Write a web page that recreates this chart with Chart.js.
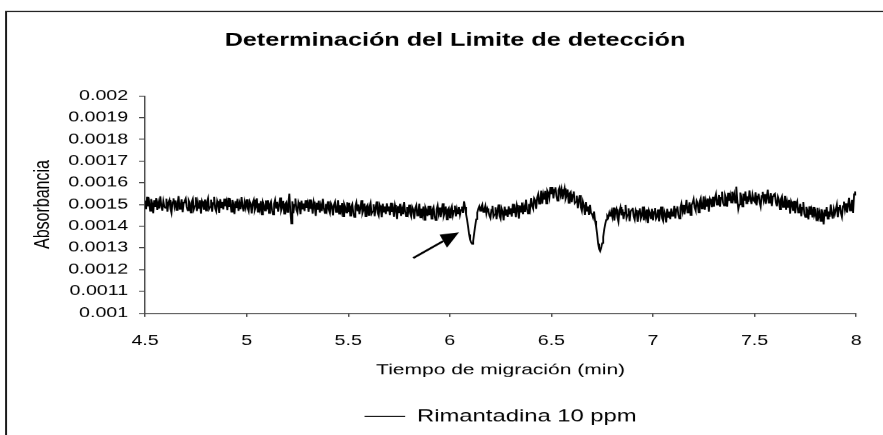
<!DOCTYPE html>
<html>
<head>
<meta charset="utf-8">
<script src="https://cdn.jsdelivr.net/npm/chart.js@4.4.0/dist/chart.umd.min.js"></script>
<style>
  html, body { margin: 0; padding: 0; background: #fff; overflow: hidden; }
  /* the original picture is stretched sideways, so the chart is drawn narrow and widened */
  #wrap { width: 631px; height: 435px; transform: scaleX(1.3994); transform-origin: 0 0; }
</style>
</head>
<body>
<div id="wrap"><canvas id="grafico" width="631" height="435"></canvas></div>
<script>
// migration time (min), one reading every 0.005 min
const tiempo = [
  4.5,4.505,4.51,4.515,4.52,4.525,4.53,4.535,4.54,4.545,4.55,4.555,4.56,4.565,4.57,4.575,4.58,4.585,4.59,4.595,
  4.6,4.605,4.61,4.615,4.62,4.625,4.63,4.635,4.64,4.645,4.65,4.655,4.66,4.665,4.67,4.675,4.68,4.685,4.69,4.695,
  4.7,4.705,4.71,4.715,4.72,4.725,4.73,4.735,4.74,4.745,4.75,4.755,4.76,4.765,4.77,4.775,4.78,4.785,4.79,4.795,
  4.8,4.805,4.81,4.815,4.82,4.825,4.83,4.835,4.84,4.845,4.85,4.855,4.86,4.865,4.87,4.875,4.88,4.885,4.89,4.895,
  4.9,4.905,4.91,4.915,4.92,4.925,4.93,4.935,4.94,4.945,4.95,4.955,4.96,4.965,4.97,4.975,4.98,4.985,4.99,4.995,
  5.0,5.005,5.01,5.015,5.02,5.025,5.03,5.035,5.04,5.045,5.05,5.055,5.06,5.065,5.07,5.075,5.08,5.085,5.09,5.095,
  5.1,5.105,5.11,5.115,5.12,5.125,5.13,5.135,5.14,5.145,5.15,5.155,5.16,5.165,5.17,5.175,5.18,5.185,5.19,5.195,
  5.2,5.205,5.21,5.215,5.22,5.225,5.23,5.235,5.24,5.245,5.25,5.255,5.26,5.265,5.27,5.275,5.28,5.285,5.29,5.295,
  5.3,5.305,5.31,5.315,5.32,5.325,5.33,5.335,5.34,5.345,5.35,5.355,5.36,5.365,5.37,5.375,5.38,5.385,5.39,5.395,
  5.4,5.405,5.41,5.415,5.42,5.425,5.43,5.435,5.44,5.445,5.45,5.455,5.46,5.465,5.47,5.475,5.48,5.485,5.49,5.495,
  5.5,5.505,5.51,5.515,5.52,5.525,5.53,5.535,5.54,5.545,5.55,5.555,5.56,5.565,5.57,5.575,5.58,5.585,5.59,5.595,
  5.6,5.605,5.61,5.615,5.62,5.625,5.63,5.635,5.64,5.645,5.65,5.655,5.66,5.665,5.67,5.675,5.68,5.685,5.69,5.695,
  5.7,5.705,5.71,5.715,5.72,5.725,5.73,5.735,5.74,5.745,5.75,5.755,5.76,5.765,5.77,5.775,5.78,5.785,5.79,5.795,
  5.8,5.805,5.81,5.815,5.82,5.825,5.83,5.835,5.84,5.845,5.85,5.855,5.86,5.865,5.87,5.875,5.88,5.885,5.89,5.895,
  5.9,5.905,5.91,5.915,5.92,5.925,5.93,5.935,5.94,5.945,5.95,5.955,5.96,5.965,5.97,5.975,5.98,5.985,5.99,5.995,
  6.0,6.005,6.01,6.015,6.02,6.025,6.03,6.035,6.04,6.045,6.05,6.055,6.06,6.065,6.07,6.075,6.08,6.085,6.09,6.095,
  6.1,6.105,6.11,6.115,6.12,6.125,6.13,6.135,6.14,6.145,6.15,6.155,6.16,6.165,6.17,6.175,6.18,6.185,6.19,6.195,
  6.2,6.205,6.21,6.215,6.22,6.225,6.23,6.235,6.24,6.245,6.25,6.255,6.26,6.265,6.27,6.275,6.28,6.285,6.29,6.295,
  6.3,6.305,6.31,6.315,6.32,6.325,6.33,6.335,6.34,6.345,6.35,6.355,6.36,6.365,6.37,6.375,6.38,6.385,6.39,6.395,
  6.4,6.405,6.41,6.415,6.42,6.425,6.43,6.435,6.44,6.445,6.45,6.455,6.46,6.465,6.47,6.475,6.48,6.485,6.49,6.495,
  6.5,6.505,6.51,6.515,6.52,6.525,6.53,6.535,6.54,6.545,6.55,6.555,6.56,6.565,6.57,6.575,6.58,6.585,6.59,6.595,
  6.6,6.605,6.61,6.615,6.62,6.625,6.63,6.635,6.64,6.645,6.65,6.655,6.66,6.665,6.67,6.675,6.68,6.685,6.69,6.695,
  6.7,6.705,6.71,6.715,6.72,6.725,6.73,6.735,6.74,6.745,6.75,6.755,6.76,6.765,6.77,6.775,6.78,6.785,6.79,6.795,
  6.8,6.805,6.81,6.815,6.82,6.825,6.83,6.835,6.84,6.845,6.85,6.855,6.86,6.865,6.87,6.875,6.88,6.885,6.89,6.895,
  6.9,6.905,6.91,6.915,6.92,6.925,6.93,6.935,6.94,6.945,6.95,6.955,6.96,6.965,6.97,6.975,6.98,6.985,6.99,6.995,
  7.0,7.005,7.01,7.015,7.02,7.025,7.03,7.035,7.04,7.045,7.05,7.055,7.06,7.065,7.07,7.075,7.08,7.085,7.09,7.095,
  7.1,7.105,7.11,7.115,7.12,7.125,7.13,7.135,7.14,7.145,7.15,7.155,7.16,7.165,7.17,7.175,7.18,7.185,7.19,7.195,
  7.2,7.205,7.21,7.215,7.22,7.225,7.23,7.235,7.24,7.245,7.25,7.255,7.26,7.265,7.27,7.275,7.28,7.285,7.29,7.295,
  7.3,7.305,7.31,7.315,7.32,7.325,7.33,7.335,7.34,7.345,7.35,7.355,7.36,7.365,7.37,7.375,7.38,7.385,7.39,7.395,
  7.4,7.405,7.41,7.415,7.42,7.425,7.43,7.435,7.44,7.445,7.45,7.455,7.46,7.465,7.47,7.475,7.48,7.485,7.49,7.495,
  7.5,7.505,7.51,7.515,7.52,7.525,7.53,7.535,7.54,7.545,7.55,7.555,7.56,7.565,7.57,7.575,7.58,7.585,7.59,7.595,
  7.6,7.605,7.61,7.615,7.62,7.625,7.63,7.635,7.64,7.645,7.65,7.655,7.66,7.665,7.67,7.675,7.68,7.685,7.69,7.695,
  7.7,7.705,7.71,7.715,7.72,7.725,7.73,7.735,7.74,7.745,7.75,7.755,7.76,7.765,7.77,7.775,7.78,7.785,7.79,7.795,
  7.8,7.805,7.81,7.815,7.82,7.825,7.83,7.835,7.84,7.845,7.85,7.855,7.86,7.865,7.87,7.875,7.88,7.885,7.89,7.895,
  7.9,7.905,7.91,7.915,7.92,7.925,7.93,7.935,7.94,7.945,7.95,7.955,7.96,7.965,7.97,7.975,7.98,7.985,7.99,7.995,
  8.0
];

const absorbancia = [
  0.001518,0.001478,0.001535,0.001492,0.001512,0.001470,0.001525,0.001505,0.001460,0.001520,0.001488,0.001530,0.001475,0.001508,0.001482,0.001538,0.001495,0.001472,0.001515,0.001490,
  0.001484,0.001527,0.001467,0.001509,0.001521,0.001481,0.001461,0.001511,0.001529,0.001491,0.001519,0.001474,0.001504,0.001539,0.001479,0.001494,0.001524,0.001464,0.001509,0.001517,
  0.001528,0.001488,0.001473,0.001518,0.001506,0.001463,0.001513,0.001526,0.001478,0.001493,0.001533,0.001470,0.001510,0.001483,0.001520,0.001458,0.001516,0.001503,0.001476,0.001523,
  0.001472,0.001512,0.001529,0.001479,0.001489,0.001522,0.001467,0.001507,0.001535,0.001482,0.001469,0.001517,0.001502,0.001462,0.001525,0.001487,0.001512,0.001477,0.001527,0.001492,
  0.001514,0.001474,0.001531,0.001488,0.001508,0.001466,0.001521,0.001501,0.001456,0.001516,0.001484,0.001526,0.001471,0.001504,0.001478,0.001534,0.001491,0.001468,0.001511,0.001486,
  0.001524,0.001484,0.001469,0.001514,0.001502,0.001459,0.001509,0.001522,0.001474,0.001489,0.001529,0.001466,0.001506,0.001479,0.001516,0.001454,0.001512,0.001499,0.001472,0.001519,
  0.001477,0.001520,0.001460,0.001502,0.001514,0.001474,0.001454,0.001504,0.001522,0.001484,0.001512,0.001467,0.001497,0.001532,0.001472,0.001487,0.001517,0.001457,0.001502,0.001510,
  0.001465,0.001505,0.001550,0.001472,0.001412,0.001515,0.001460,0.001500,0.001528,0.001475,0.001462,0.001510,0.001495,0.001455,0.001518,0.001480,0.001505,0.001470,0.001520,0.001485,
  0.001506,0.001466,0.001523,0.001480,0.001500,0.001458,0.001513,0.001493,0.001448,0.001508,0.001476,0.001518,0.001463,0.001496,0.001470,0.001526,0.001483,0.001460,0.001503,0.001478,
  0.001515,0.001475,0.001460,0.001505,0.001493,0.001450,0.001500,0.001513,0.001465,0.001480,0.001520,0.001457,0.001497,0.001470,0.001507,0.001445,0.001503,0.001490,0.001463,0.001510,
  0.001465,0.001508,0.001448,0.001490,0.001502,0.001462,0.001442,0.001492,0.001510,0.001472,0.001500,0.001455,0.001485,0.001520,0.001460,0.001475,0.001505,0.001445,0.001490,0.001498,
  0.001451,0.001491,0.001508,0.001458,0.001468,0.001501,0.001446,0.001486,0.001514,0.001461,0.001448,0.001496,0.001481,0.001441,0.001504,0.001466,0.001491,0.001456,0.001506,0.001471,
  0.001491,0.001451,0.001508,0.001465,0.001485,0.001443,0.001498,0.001478,0.001433,0.001493,0.001461,0.001503,0.001448,0.001481,0.001455,0.001511,0.001468,0.001445,0.001488,0.001463,
  0.001499,0.001459,0.001444,0.001489,0.001477,0.001434,0.001484,0.001497,0.001449,0.001464,0.001504,0.001441,0.001481,0.001454,0.001491,0.001429,0.001487,0.001474,0.001447,0.001494,
  0.001451,0.001494,0.001434,0.001476,0.001488,0.001448,0.001428,0.001478,0.001496,0.001458,0.001486,0.001441,0.001471,0.001506,0.001446,0.001461,0.001491,0.001431,0.001476,0.001484,
  0.001440,0.001478,0.001492,0.001450,0.001472,0.001495,0.001445,0.001480,0.001458,0.001488,0.001452,0.001475,0.001490,0.001462,0.001515,0.001488,0.001455,0.001430,0.001398,0.001362,
  0.001338,0.001325,0.001318,0.001332,0.001368,0.001402,0.001432,0.001462,0.001480,0.001492,0.001470,0.001488,0.001500,0.001465,0.001478,0.001495,0.001458,0.001482,0.001470,0.001448,
  0.001437,0.001477,0.001494,0.001444,0.001454,0.001487,0.001432,0.001472,0.001500,0.001447,0.001434,0.001482,0.001467,0.001427,0.001490,0.001452,0.001477,0.001442,0.001492,0.001457,
  0.001483,0.001444,0.001503,0.001461,0.001482,0.001441,0.001498,0.001479,0.001435,0.001496,0.001466,0.001509,0.001455,0.001489,0.001465,0.001522,0.001480,0.001458,0.001503,0.001479,
  0.001530,0.001493,0.001481,0.001529,0.001520,0.001480,0.001532,0.001548,0.001503,0.001521,0.001564,0.001504,0.001547,0.001523,0.001563,0.001504,0.001564,0.001554,0.001530,0.001580,
  0.001547,0.001580,0.001528,0.001569,0.001579,0.001538,0.001517,0.001566,0.001578,0.001544,0.001570,0.001524,0.001553,0.001575,0.001526,0.001540,0.001569,0.001507,0.001551,0.001558,
  0.001510,0.001546,0.001560,0.001506,0.001512,0.001541,0.001483,0.001519,0.001543,0.001487,0.001470,0.001514,0.001496,0.001452,0.001511,0.001470,0.001491,0.001452,0.001498,0.001460,
  0.001455,0.001440,0.001468,0.001425,0.001400,0.001365,0.001320,0.001295,0.001285,0.001300,0.001322,0.001350,0.001385,0.001410,0.001430,0.001448,0.001440,0.001462,0.001445,0.001468,
  0.001443,0.001486,0.001426,0.001468,0.001480,0.001440,0.001420,0.001470,0.001488,0.001450,0.001478,0.001433,0.001463,0.001498,0.001438,0.001453,0.001483,0.001423,0.001468,0.001476,
  0.001485,0.001445,0.001430,0.001475,0.001463,0.001420,0.001470,0.001483,0.001435,0.001450,0.001490,0.001427,0.001467,0.001440,0.001477,0.001415,0.001473,0.001460,0.001433,0.001480,
  0.001427,0.001467,0.001484,0.001434,0.001444,0.001477,0.001422,0.001462,0.001490,0.001437,0.001424,0.001472,0.001457,0.001417,0.001480,0.001442,0.001467,0.001432,0.001482,0.001447,
  0.001450,0.001494,0.001436,0.001479,0.001492,0.001453,0.001435,0.001486,0.001505,0.001468,0.001498,0.001454,0.001485,0.001521,0.001463,0.001479,0.001510,0.001451,0.001498,0.001507,
  0.001525,0.001486,0.001472,0.001517,0.001506,0.001464,0.001515,0.001529,0.001481,0.001497,0.001538,0.001476,0.001517,0.001490,0.001528,0.001467,0.001526,0.001514,0.001487,0.001535,
  0.001490,0.001531,0.001549,0.001499,0.001510,0.001544,0.001490,0.001531,0.001559,0.001507,0.001495,0.001544,0.001530,0.001490,0.001554,0.001517,0.001543,0.001509,0.001559,0.001525,
  0.001548,0.001508,0.001582,0.001522,0.001478,0.001500,0.001555,0.001535,0.001490,0.001550,0.001518,0.001560,0.001505,0.001538,0.001512,0.001565,0.001525,0.001502,0.001545,0.001520,
  0.001513,0.001556,0.001496,0.001538,0.001550,0.001510,0.001490,0.001540,0.001558,0.001520,0.001548,0.001503,0.001533,0.001568,0.001508,0.001523,0.001553,0.001493,0.001538,0.001546,
  0.001550,0.001509,0.001492,0.001536,0.001522,0.001478,0.001526,0.001538,0.001488,0.001502,0.001540,0.001476,0.001514,0.001486,0.001521,0.001458,0.001514,0.001500,0.001471,0.001517,
  0.001460,0.001499,0.001514,0.001463,0.001471,0.001503,0.001446,0.001485,0.001511,0.001457,0.001442,0.001489,0.001472,0.001431,0.001492,0.001453,0.001476,0.001440,0.001488,0.001452,
  0.001466,0.001427,0.001485,0.001443,0.001464,0.001423,0.001478,0.001459,0.001408,0.001476,0.001445,0.001488,0.001434,0.001468,0.001443,0.001500,0.001457,0.001435,0.001479,0.001455,
  0.001455,0.001500,0.001441,0.001485,0.001498,0.001460,0.001442,0.001493,0.001513,0.001476,0.001506,0.001463,0.001494,0.001531,0.001472,0.001489,0.001521,0.001462,0.001548,0.001560,
  0.001542
];

const ticksX = [4.5, 5, 5.5, 6, 6.5, 7, 7.5, 8];
const etiquetasX = ['4.5', '5', '5.5', '6', '6.5', '7', '7.5', '8'];
const ticksY = [0.001, 0.0011, 0.0012, 0.0013, 0.0014, 0.0015, 0.0016, 0.0017, 0.0018, 0.0019, 0.002];
const etiquetasY = ['0.001', '0.0011', '0.0012', '0.0013', '0.0014', '0.0015', '0.0016', '0.0017', '0.0018', '0.0019', '0.002'];

// arrow pointing at the first dip, in data units (tail, tip)
const flechaDesde = [5.82, 0.001253];
const flechaHasta = [6.045, 0.001372];

const ESTIRAR = 883 / 631;
const fuente = "'Liberation Sans', Arial, sans-serif";
const gris = '#444';

const marco = {
  id: 'marco',
  beforeDraw(chart) {
    const c = chart.ctx;
    c.save();
    c.fillStyle = '#fff';
    c.fillRect(0, 0, chart.width, chart.height);
    c.strokeStyle = '#1a1a1a';
    c.lineWidth = 1.4;
    c.strokeRect(4.3, 11.5, chart.width + 20, chart.height + 20);
    c.restore();
  },
  afterDatasetsDraw(chart) {
    const sx = chart.scales.x, sy = chart.scales.y;
    const c = chart.ctx;
    // work in stretched (screen) space so the head keeps its shape
    const x0 = sx.getPixelForValue(flechaDesde[0]) * ESTIRAR, y0 = sy.getPixelForValue(flechaDesde[1]);
    const x1 = sx.getPixelForValue(flechaHasta[0]) * ESTIRAR, y1 = sy.getPixelForValue(flechaHasta[1]);
    const len = Math.hypot(x1 - x0, y1 - y0);
    const ux = (x1 - x0) / len, uy = (y1 - y0) / len;
    const bx = x1 - ux * 18, by = y1 - uy * 18;
    const px = -uy, py = ux;
    c.save();
    c.strokeStyle = '#000';
    c.fillStyle = '#000';
    c.lineWidth = 1.8;
    c.beginPath();
    c.moveTo(x0 / ESTIRAR, y0);
    c.lineTo(bx / ESTIRAR, by);
    c.stroke();
    c.beginPath();
    c.moveTo(x1 / ESTIRAR, y1);
    c.lineTo((bx + px * 7.5) / ESTIRAR, by + py * 7.5);
    c.lineTo((bx - px * 7.5) / ESTIRAR, by - py * 7.5);
    c.closePath();
    c.fill();
    c.restore();
  }
};

const ctx = document.getElementById('grafico').getContext('2d');

const grafico = new Chart(ctx, {
  type: 'line',
  data: {
    datasets: [{
      label: 'Rimantadina 10 ppm',
      data: tiempo.map((t, i) => ({x: t, y: absorbancia[i]})),
      borderColor: '#000',
      backgroundColor: '#000',
      borderWidth: 1.3,
      pointRadius: 0,
      tension: 0,
      fill: false
    }]
  },
  options: {
    responsive: false,
    animation: false,
    devicePixelRatio: 1.4,
    layout: { padding: { left: 34, right: 15, top: 0, bottom: 0 } },
    plugins: {
      title: {
        display: true,
        text: 'Determinación del Limite de detección',
        color: '#000',
        font: { family: fuente, size: 18, weight: 'bold' },
        padding: { top: 30.2, bottom: 44.2 }
      },
      legend: {
        position: 'bottom',
        fullSize: false,
        labels: {
          usePointStyle: true,
          pointStyle: 'line',
          pointStyleWidth: 29,
          color: '#000',
          font: { family: fuente, size: 17 },
          padding: 10
        }
      },
      tooltip: { enabled: false }
    },
    scales: {
      x: {
        type: 'linear',
        min: 4.5,
        max: 8,
        afterBuildTicks: s => { s.ticks = ticksX.map(v => ({value: v})); },
        afterFit: s => { s.height = 85; },
        ticks: {
          callback: (v, i) => etiquetasX[i],
          color: '#000',
          font: { family: fuente, size: 14 },
          padding: 15.6,
          maxRotation: 0,
          autoSkip: false
        },
        grid: { drawOnChartArea: false, tickLength: 4, tickColor: gris, color: gris },
        border: { color: gris, width: 1 },
        title: {
          display: true,
          text: 'Tiempo de migración (min)',
          color: '#000',
          font: { family: fuente, size: 15 },
          padding: { top: 0, bottom: 19 }
        }
      },
      y: {
        type: 'linear',
        min: 0.001,
        max: 0.002,
        afterBuildTicks: s => { s.ticks = ticksY.map(v => ({value: v})); },
        afterFit: s => { s.width = 69.6; },
        ticks: {
          callback: (v, i) => etiquetasY[i],
          color: '#000',
          font: { family: fuente, size: 14 },
          padding: 7.8,
          autoSkip: false
        },
        grid: { drawOnChartArea: false, tickLength: 4.3, tickColor: gris, color: gris },
        border: { color: gris, width: 1 },
        title: {
          display: true,
          text: 'Absorbancia',
          color: '#000',
          font: { family: fuente, size: 16, lineHeight: 1 },
          padding: { top: -11.6, bottom: 0 }
        }
      }
    }
  },
  plugins: [marco]
});
</script>
</body>
</html>
